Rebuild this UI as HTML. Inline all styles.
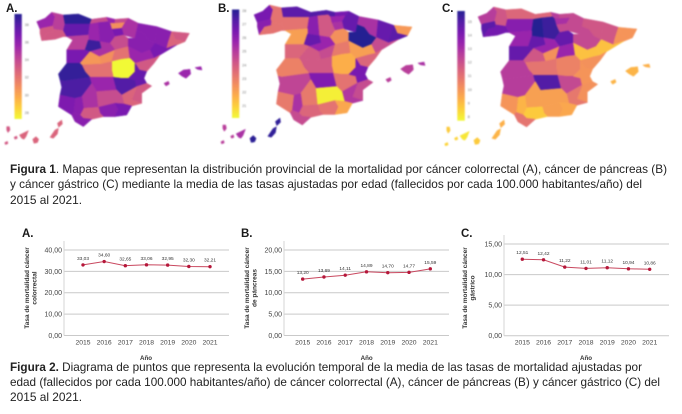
<!DOCTYPE html>
<html lang="es">
<head>
<meta charset="utf-8">
<title>Mortalidad por cáncer</title>
<style>
html,body{margin:0;padding:0;background:#fff;width:682px;height:414px;overflow:hidden}
svg{display:block;filter:blur(0.3px)}
text{font-family:"Liberation Sans",sans-serif}
.cap{font-size:12px;fill:#222}
.panel{font-size:11.5px;font-weight:bold;fill:#1a1a1a}
</style>
</head>
<body>
<svg id="page" xmlns="http://www.w3.org/2000/svg" width="682" height="414" viewBox="0 0 682 414">
  <defs id="defs"></defs>
  <text class="panel" x="6" y="12">A.</text>
  <text class="panel" x="218" y="12">B.</text>
  <text class="panel" x="442" y="12">C.</text>
  <g id="maps"></g>
  <g>
    <text class="cap" x="10" y="173" textLength="657" lengthAdjust="spacingAndGlyphs"><tspan font-weight="bold">Figura 1</tspan>. Mapas que representan la distribución provincial de la mortalidad por cáncer colorrectal (A), cáncer de páncreas (B)</text>
    <text class="cap" x="10" y="188" textLength="632" lengthAdjust="spacingAndGlyphs">y cáncer gástrico (C) mediante la media de las tasas ajustadas por edad (fallecidos por cada 100.000 habitantes/año) del</text>
    <text class="cap" x="10" y="204" textLength="72" lengthAdjust="spacingAndGlyphs">2015 al 2021.</text>
  </g>
  <text class="panel" x="22" y="237">A.</text>
  <text class="panel" x="241" y="237">B.</text>
  <text class="panel" x="461" y="237">C.</text>
  <g id="charts"></g>
  <g>
    <text class="cap" x="10" y="371" textLength="632" lengthAdjust="spacingAndGlyphs"><tspan font-weight="bold">Figura 2.</tspan> Diagrama de puntos que representa la evolución temporal de la media de las tasas de mortalidad ajustadas por</text>
    <text class="cap" x="10" y="386" textLength="650" lengthAdjust="spacingAndGlyphs">edad (fallecidos por cada 100.000 habitantes/año) de cáncer colorrectal (A), cáncer de páncreas (B) y cáncer gástrico (C) del</text>
    <text class="cap" x="10" y="401" textLength="72" lengthAdjust="spacingAndGlyphs">2015 al 2021.</text>
  </g>
</svg>
<script>
// ---- chart data ----
const years = ['2015','2016','2017','2018','2019','2020','2021'];
const seriesA = [33.03,34.60,32.65,33.06,32.95,32.30,32.21];
const seriesB = [13.20,13.69,14.11,14.89,14.70,14.77,15.59];
const seriesC = [12.51,12.42,11.22,11.01,11.12,10.94,10.86];
const ticksA = [0,10,20,30,40];
const ticksB = [0,5,10,15,20];
const ticksC = [0,5,10,15];

// ---- map data (values in each colour bar's units) ----
const provinces = ['coruna','lugo','pontevedra','ourense','asturias','cantabria','bizkaia','gipuzkoa','alava','navarra','rioja','leon','palencia','burgos','zamora','valladolid','soria','segovia','salamanca','avila','madrid','guadalajara','zaragoza','huesca','lleida','girona','barcelona','tarragona','teruel','castellon','cuenca','toledo','caceres','badajoz','ciudad-real','albacete','valencia','alicante','murcia','cordoba','jaen','granada','almeria','malaga','sevilla','huelva','cadiz','mallorca','menorca','ibiza','lanzarote','fuerteventura','gran-canaria','tenerife','gomera','hierro','la-palma'];
const mapValuesA = [35.6,34.4,33.2,33.2,39.0,33.8,35.6,33.8,30.9,35.0,36.8,37.4,35.6,36.2,34.4,38.6,33.8,35.0,36.8,30.6,30.9,32.1,36.2,36.2,36.2,33.2,32.7,36.8,35.6,33.2,27.3,32.1,38.8,38.2,35.6,38.0,37.4,33.2,32.7,35.0,33.8,36.2,36.8,33.2,36.2,36.6,36.2,35.6,35.6,35.0,32.7,32.7,32.7,32.7,33.2,33.2,33.2];
const mapValuesB = [26.5,23.3,26.1,23.3,27.1,27.3,27.3,26.5,25.7,26.9,25.3,23.3,26.1,24.1,22.1,26.9,22.5,25.7,23.7,24.1,24.5,23.1,28.1,25.3,26.9,22.3,27.1,24.5,22.1,23.7,21.7,24.1,22.9,24.7,26.3,23.3,26.5,24.5,25.1,23.1,20.3,23.3,21.9,23.7,25.3,23.1,24.5,24.9,25.3,24.9,27.9,27.9,28.0,25.3,24.9,24.9,24.9];
const mapValuesC = [12.6,11.8,14.8,14.3,11.3,11.3,12.6,12.2,13.0,12.2,12.2,13.8,15.8,15.4,13.4,14.6,14.6,13.4,14.6,11.8,10.1,13.4,12.2,11.8,11.8,10.0,10.0,8.9,8.9,10.1,10.5,10.9,12.6,12.6,15.0,12.2,10.0,10.1,10.8,9.7,9.7,9.7,9.5,8.7,9.2,10.0,10.9,9.2,9.3,9.2,9.3,9.2,8.7,8.1,8.5,8.5,8.7];
const barTicksA = [38,36,34,32,30,28];
const barTicksB = [28,27,26,25,24,23,22,21];
const barTicksC = [15,14,13,12,11,10,9,8];

// ---- map geometry ----
const shapes = {
coruna:'110,65 135,55 155,37 165,50 158,78 125,85 120,88',
lugo:'155,37 190,45 195,72 190,92 160,88 158,78 165,50',
pontevedra:'120,88 125,85 158,78 160,88 160,95 140,100 125,122 120,100',
ourense:'160,88 190,92 200,110 190,110 165,118 125,122 140,100 160,95',
asturias:'190,45 235,42 275,58 270,72 195,72',
cantabria:'275,58 320,52 325,65 295,68 270,72',
bizkaia:'320,52 345,58 345,70 330,70 325,65',
gipuzkoa:'345,58 385,55 375,68 345,70',
alava:'330,70 345,70 375,68 365,85 335,88',
navarra:'385,55 415,70 405,115 370,105 365,85 375,68',
rioja:'335,88 365,85 370,105 345,110 340,100',
leon:'195,72 270,72 265,105 200,110 190,92',
palencia:'270,72 295,68 300,125 265,120 265,105',
burgos:'295,68 325,65 330,70 335,88 340,100 345,110 330,130 300,125',
zamora:'200,110 265,105 265,120 255,150 200,150 218,120',
valladolid:'265,120 300,125 305,145 270,155 255,150',
soria:'345,110 370,105 385,115 385,140 345,150 330,130',
segovia:'300,125 330,130 345,150 298,170 270,155 305,145',
salamanca:'200,150 255,150 270,155 240,190 200,190',
avila:'270,155 298,170 305,192 245,195 240,190',
madrid:'298,170 345,150 335,185 305,192',
guadalajara:'345,150 385,140 390,175 365,178 335,185',
zaragoza:'410,92 430,100 445,120 465,130 450,150 425,160 395,145 385,140 385,115 405,115',
huesca:'415,70 470,80 465,130 445,120 430,100 410,92',
lleida:'470,80 515,95 505,125 500,145 465,130',
girona:'515,95 568,100 555,125 525,118',
barcelona:'515,95 525,118 555,125 530,135 500,145 505,125',
tarragona:'465,130 500,145 530,135 480,165 462,175 450,150',
teruel:'385,140 395,145 425,160 450,150 462,175 440,180 405,190 390,175',
castellon:'462,175 480,165 462,190 440,215 418,210 405,190 440,180',
cuenca:'335,185 365,178 390,175 405,190 405,215 385,235 365,235 340,232 335,210',
toledo:'245,195 305,192 335,185 335,210 340,232 270,232 255,215',
caceres:'175,222 200,190 240,190 245,195 255,215 270,232 190,243 180,240',
badajoz:'180,240 190,243 270,232 275,250 245,290 225,295 180,285 185,262',
'ciudad-real':'270,232 340,232 350,270 290,275 275,250',
albacete:'340,232 365,235 385,235 405,240 410,260 365,285 350,270',
valencia:'405,190 418,210 440,215 432,235 440,250 410,260 405,240 385,235 405,215',
alicante:'410,260 440,250 455,258 425,280 425,310 395,300',
murcia:'365,285 410,260 395,300 425,310 395,318 372,312',
cordoba:'275,250 290,275 295,322 250,325 245,290',
jaen:'290,275 350,270 365,285 372,312 345,310 295,322',
granada:'295,322 345,310 355,328 345,350 310,350 300,340',
almeria:'345,310 372,312 395,318 380,345 345,350 355,328',
malaga:'250,325 295,322 300,340 310,350 275,358 250,355 240,345',
sevilla:'225,295 245,290 250,325 240,345 220,338',
huelva:'180,285 225,295 220,338 215,345 175,320',
cadiz:'215,345 220,338 240,345 250,355 275,358 250,380 225,365',
mallorca:'535,220 550,210 570,208 572,222 558,235 545,228',
menorca:'585,203 603,200 606,210 592,208',
ibiza:'492,250 505,244 508,252 498,258',
lanzarote:'172,370 185,360 187,372 176,382',
fuerteventura:'150,412 165,390 175,385 172,402 160,415',
'gran-canaria':'98,418 108,410 116,418 112,428 102,430',
tenerife:'58,405 85,392 78,410 72,418 65,415',
gomera:'42,412 50,408 52,415 45,418',
hierro:'14,428 22,424 24,431 16,434',
'la-palma':'20,380 28,380 30,390 24,398 20,390'
};
const plasma = ['#0d0887','#41049d','#6a00a8','#8f0da4','#b12a90','#cc4778','#e16462','#f2844b','#fca636','#fcce25','#f0f921'];
const NS = 'http://www.w3.org/2000/svg';

function mk(tag, attrs, parent){
  const e = document.createElementNS(NS, tag);
  for (const k in attrs) e.setAttribute(k, attrs[k]);
  parent.appendChild(e);
  return e;
}
function hex(c){return [1,3,5].map(i=>parseInt(c.substr(i,2),16));}
function plasmaColor(t){
  t = Math.max(0, Math.min(1, t)) * (plasma.length - 1);
  const i = Math.min(Math.floor(t), plasma.length - 2), f = t - i;
  const a = hex(plasma[i]), b = hex(plasma[i + 1]);
  return 'rgb(' + a.map((v, j) => Math.round(v + (b[j] - v) * f)).join(',') + ')';
}

// colour-bar gradient
const grad = mk('linearGradient', {id:'plasma-grad', x1:0, y1:0, x2:0, y2:1}, document.getElementById('defs'));
plasma.forEach((c, i) => mk('stop', {offset: i / (plasma.length - 1), 'stop-color': c}, grad));

function drawMap(cfg){
  const root = document.getElementById('maps');
  const g = mk('g', {opacity: 0.9, style: 'filter:blur(0.7px)'}, root);
  
  
  const color = v => plasmaColor((cfg.top - v) / (cfg.top - cfg.bottom));
  provinces.forEach((name, i) => {
    const pts = shapes[name].split(' ').map(p => {
      const xy = p.split(',').map(Number);
      return (cfg.ox + (xy[0] - 110) * cfg.sx).toFixed(1) + ',' + (cfg.oy + (xy[1] - 37) * cfg.sy).toFixed(1);
    }).join(' ');
    const c = color(cfg.values[i]);
    const poly = mk('polygon', {points: pts, fill: c, stroke: c, 'stroke-width': 0.5, 'stroke-linejoin': 'round'}, g);
    
    
  });
  const bar = mk('rect', {x: cfg.barX, y: cfg.barTop, width: cfg.barW, height: cfg.barBottom - cfg.barTop, fill: 'url(#plasma-grad)'}, g);
  
  
  const barY = v => cfg.barTop + (cfg.top - v) / (cfg.top - cfg.bottom) * (cfg.barBottom - cfg.barTop);
  cfg.ticks.forEach(t => {
    const lab = mk('text', {x: cfg.barX + cfg.barW + 3, y: barY(t) + 1.2, 'font-size': 3.6, fill: '#666'}, g);
    lab.textContent = t;
    
    
  });
}
drawMap({id:'a', values:mapValuesA, ticks:barTicksA, top:39.2, bottom:27.3, ox:36.7, oy:12.3, sx:.3333, sy:.3333, barX:14.5, barW:7.3, barTop:14, barBottom:119});
drawMap({id:'b', values:mapValuesB, ticks:barTicksB, top:28.1, bottom:20.1, ox:254, oy:5, sx:.345, sy:.35, barX:232, barW:7.3, barTop:9.5, barBottom:118});
drawMap({id:'c', values:mapValuesC, ticks:barTicksC, top:15.8, bottom:7.7, ox:478, oy:7, sx:.347, sy:.35, barX:457.3, barW:7.5, barTop:11, barBottom:120.7});

function fmt(v){return v.toFixed(2).replace('.', ',');}
function drawChart(cfg){
  const root = document.getElementById('charts');
  const g = mk('g', {}, root);
  
  
  const max = cfg.ticks[cfg.ticks.length - 1];
  const y = v => cfg.y0 + (cfg.yMax - cfg.y0) * v / max;
  const x = i => cfg.xFirst + (cfg.xLast - cfg.xFirst) * i / (years.length - 1);
  cfg.ticks.forEach(t => {
    const line = mk('line', {x1: cfg.xAxis, x2: cfg.xEnd, y1: y(t), y2: y(t), stroke: '#c9c9c9', 'stroke-width': 1}, g);
    
    
    const lab = mk('text', {x: cfg.xAxis - 2, y: y(t) + 2.4, 'text-anchor': 'end', 'font-size': 7, fill: '#444'}, g);
    lab.textContent = fmt(t);
    
    
  });
  const axis = mk('line', {x1: cfg.xAxis, x2: cfg.xAxis, y1: y(0), y2: y(max) - 9, stroke: '#d5d5d5', 'stroke-width': 1}, g);
  
  
  const path = mk('polyline', {points: cfg.values.map((v, i) => x(i).toFixed(1) + ',' + y(v).toFixed(1)).join(' '), fill: 'none', stroke: '#c9485f', 'stroke-width': 1}, g);
  
  
  cfg.values.forEach((v, i) => {
    const dot = mk('circle', {cx: x(i), cy: y(v), r: 1.7, fill: '#b5173a'}, g);
    
    
    const val = mk('text', {x: x(i), y: y(v) - 5, 'text-anchor': 'middle', 'font-size': 4.8, fill: '#333'}, g);
    val.textContent = fmt(v);
    
    
    const yr = mk('text', {x: x(i), y: cfg.y0 + 9, 'text-anchor': 'middle', 'font-size': 6.8, fill: '#444'}, g);
    yr.textContent = years[i];
    
    
  });
  const xTitle = mk('text', {x: cfg.xTitleX, y: 360, 'text-anchor': 'middle', 'font-size': 6.2, 'font-weight': 'bold', fill: '#333'}, g);
  xTitle.textContent = 'Año';
  
  
  cfg.yTitle.forEach((line, i) => {
    const tx = cfg.yTitleX + i * 7.5;
    const t = mk('text', {x: tx, y: 288, 'text-anchor': 'middle', 'font-size': 6.5, 'font-weight': 'bold', fill: '#333', transform: 'rotate(-90 ' + tx + ' 288)'}, g);
    t.textContent = line;
    
    
  });
}
drawChart({id:'a', values:seriesA, ticks:ticksA, y0:335.5, yMax:250, xAxis:64, xEnd:229, xFirst:83, xLast:210, xTitleX:146, yTitleX:29, yTitle:['Tasa de mortalidad cáncer','colorrectal']});
drawChart({id:'b', values:seriesB, ticks:ticksB, y0:335.5, yMax:250, xAxis:284, xEnd:449, xFirst:302.7, xLast:430.3, xTitleX:366.7, yTitleX:249, yTitle:['Tasa de mortalidad cáncer','de páncreas']});
drawChart({id:'c', values:seriesC, ticks:ticksC, y0:335.7, yMax:244, xAxis:504, xEnd:669, xFirst:522.3, xLast:649.7, xTitleX:586, yTitleX:467, yTitle:['Tasa de mortalidad cáncer','gástrico']});
</script>
</body>
</html>
